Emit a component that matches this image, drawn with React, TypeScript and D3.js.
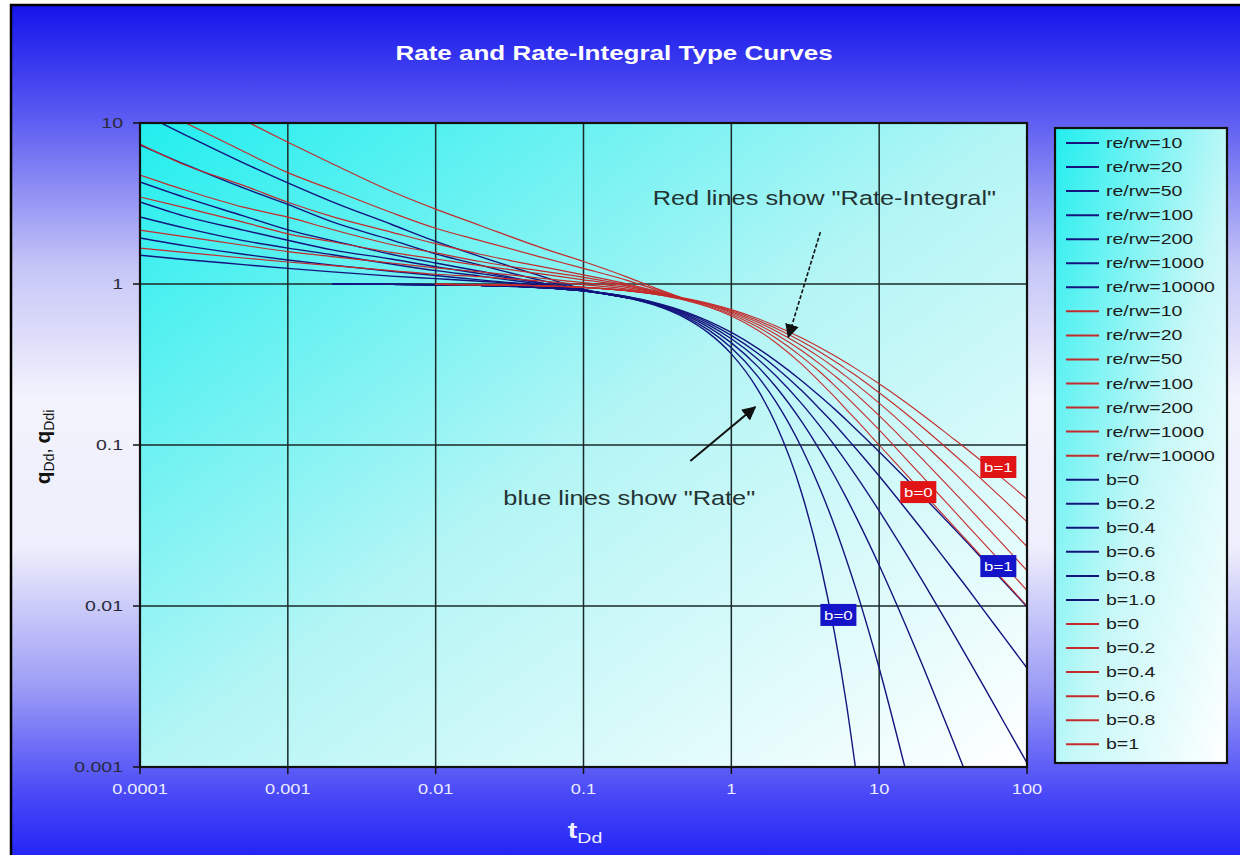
import React from "react";
import * as d3 from "d3";

// ---------- axis ticks ----------
const X_TICKS = [0.0001, 0.001, 0.01, 0.1, 1, 10, 100];
const X_TICK_LABELS = ["0.0001", "0.001", "0.01", "0.1", "1", "10", "100"];
const Y_TICKS = [0.001, 0.01, 0.1, 1, 10];
const Y_TICK_LABELS = ["0.001", "0.01", "0.1", "1", "10"];

// ---------- transient stems (re/rw) ----------
const T_TRANS = [1e-4, 2e-4, 5e-4, 1e-3, 2e-3, 5e-3, 0.01, 0.02, 0.05, 0.1, 0.2, 0.3, 0.5];
const RE_RW = ["10", "20", "50", "100", "200", "1000", "10000"];
// blue: rate qDd
const RATE_TRANS = [
  [11.6, 8.48, 5.66, 4.25, 3.24, 2.35, 1.84, 1.48, 1.13, 0.93, 0.82, null, null],
  [7.3, 5.55, 3.95, 3.12, 2.43, 1.88, 1.54, 1.31, 1.06, 0.925, 0.82, null, null],
  [4.3, 3.45, 2.65, 2.17, 1.86, 1.53, 1.35, 1.2, 1.02, 0.92, 0.82, null, null],
  [3.23, 2.64, 2.16, 1.87, 1.63, 1.43, 1.28, 1.16, 1.02, 0.915, 0.82, null, null],
  [2.61, 2.23, 1.86, 1.67, 1.52, 1.33, 1.21, 1.12, 1.0, 0.915, 0.82, null, null],
  [1.93, 1.73, 1.53, 1.41, 1.31, 1.2, 1.13, 1.06, 0.98, 0.91, 0.82, null, null],
  [1.51, 1.42, 1.32, 1.25, 1.19, 1.12, 1.08, 1.04, 0.98, 0.91, 0.82, null, null],
];
// red: rate-integral qDdi
const INTEGRAL_TRANS = [
  [22.4, 16.1, 10.46, 7.6, 5.59, 3.77, 2.92, 2.31, 1.7, 1.38, 1.1, 0.95, 0.8],
  [13.9, 10.1, 6.67, 4.92, 3.85, 2.78, 2.22, 1.86, 1.48, 1.25, 1.05, 0.93, 0.8],
  [7.4, 5.5, 4.1, 3.22, 2.62, 2.1, 1.78, 1.53, 1.29, 1.14, 1.0, 0.91, 0.8],
  [4.75, 3.85, 3.0, 2.6, 2.18, 1.76, 1.56, 1.38, 1.21, 1.1, 0.98, 0.9, 0.8],
  [3.47, 2.98, 2.42, 2.05, 1.83, 1.57, 1.43, 1.3, 1.16, 1.06, 0.97, 0.895, 0.8],
  [2.16, 1.97, 1.74, 1.59, 1.48, 1.35, 1.26, 1.19, 1.09, 1.02, 0.95, 0.89, 0.8],
  [1.67, 1.57, 1.45, 1.37, 1.3, 1.21, 1.15, 1.11, 1.045, 0.99, 0.93, 0.88, 0.8],
];

// ---------- depletion stems (b) ----------
const T_DEPL = [0.002, 0.005, 0.01, 0.02, 0.05, 0.1, 0.2, 0.3, 0.5, 0.7, 1, 1.5, 2, 3, 4, 5, 6, 7, 10, 15, 20, 30, 40, 50, 70, 100];
const B_RATE_LABELS = ["b=0", "b=0.2", "b=0.4", "b=0.6", "b=0.8", "b=1.0"];
const B_INT_LABELS = ["b=0", "b=0.2", "b=0.4", "b=0.6", "b=0.8", "b=1"];
const RATE_DEPL = [
  [0.998, 0.995, 0.99, 0.98, 0.951, 0.905, 0.819, 0.741, 0.607, 0.497, 0.368, 0.223, 0.135, 0.0498, 0.0183, 0.00674, 0.00248, 0.00091, null, null, null, null, null, null, null, null],
  [0.998, 0.995, 0.99, 0.98, 0.951, 0.906, 0.822, 0.747, 0.621, 0.519, 0.402, 0.269, 0.186, 0.0954, 0.0529, 0.0313, 0.0194, 0.0126, 0.00412, 0.00098, null, null, null, null, null, null],
  [0.998, 0.995, 0.99, 0.98, 0.952, 0.907, 0.825, 0.753, 0.634, 0.54, 0.431, 0.309, 0.23, 0.139, 0.0917, 0.0642, 0.0469, 0.0355, 0.0179, 0.00771, 0.00412, 0.00164, 0.00084, null, null, null],
  [0.998, 0.995, 0.99, 0.98, 0.952, 0.908, 0.828, 0.759, 0.646, 0.557, 0.457, 0.343, 0.269, 0.18, 0.13, 0.0992, 0.0786, 0.0641, 0.039, 0.0215, 0.0139, 0.00739, 0.00468, 0.00327, 0.00189, 0.00106],
  [0.998, 0.995, 0.99, 0.98, 0.952, 0.908, 0.831, 0.764, 0.657, 0.574, 0.48, 0.373, 0.303, 0.217, 0.166, 0.134, 0.111, 0.0945, 0.0642, 0.0405, 0.029, 0.0179, 0.0127, 0.00964, 0.00638, 0.00412],
  [0.998, 0.995, 0.99, 0.98, 0.952, 0.909, 0.833, 0.769, 0.667, 0.588, 0.5, 0.4, 0.333, 0.25, 0.2, 0.167, 0.143, 0.125, 0.0909, 0.0625, 0.0476, 0.0323, 0.0244, 0.0196, 0.0141, 0.0099],
];
const INTEGRAL_DEPL = [
  [null, null, 0.995, 0.99, 0.975, 0.952, 0.906, 0.864, 0.787, 0.719, 0.632, 0.518, 0.432, 0.317, 0.245, 0.199, 0.166, 0.143, 0.1, 0.0667, 0.05, 0.0333, 0.025, 0.02, 0.0143, 0.01],
  [null, null, 0.995, 0.99, 0.976, 0.952, 0.908, 0.866, 0.793, 0.728, 0.647, 0.542, 0.462, 0.353, 0.283, 0.234, 0.199, 0.173, 0.124, 0.083, 0.0624, 0.0417, 0.0312, 0.025, 0.0179, 0.0125],
  [null, null, 0.995, 0.99, 0.976, 0.952, 0.909, 0.868, 0.798, 0.737, 0.661, 0.562, 0.488, 0.385, 0.317, 0.269, 0.234, 0.206, 0.152, 0.105, 0.0802, 0.0544, 0.0411, 0.033, 0.0237, 0.0166],
  [null, null, 0.995, 0.99, 0.976, 0.953, 0.91, 0.871, 0.803, 0.745, 0.673, 0.58, 0.511, 0.414, 0.349, 0.302, 0.266, 0.238, 0.182, 0.131, 0.102, 0.0716, 0.0552, 0.0449, 0.0328, 0.0234],
  [null, null, 0.995, 0.99, 0.976, 0.953, 0.911, 0.873, 0.807, 0.751, 0.683, 0.596, 0.531, 0.439, 0.377, 0.331, 0.296, 0.269, 0.211, 0.158, 0.127, 0.0921, 0.0729, 0.0605, 0.0454, 0.0333],
  [null, null, 0.995, 0.99, 0.976, 0.953, 0.912, 0.875, 0.811, 0.758, 0.693, 0.611, 0.549, 0.462, 0.402, 0.358, 0.324, 0.297, 0.24, 0.185, 0.152, 0.114, 0.0928, 0.0786, 0.0609, 0.0462],
];

// ---------- annotations ----------
const NOTE_INTEGRAL_TEXT = "Red lines show \"Rate-Integral\"";
const NOTE_INTEGRAL_POS = [4.26, 3.42];
const NOTE_INTEGRAL_ARROW = [[4.0, 2.1], [2.43, 0.469]];
const NOTE_RATE_TEXT = "blue lines show \"Rate\"";
const NOTE_RATE_POS = [0.204, 0.0469];
const NOTE_RATE_ARROW = [[0.528, 0.0796], [1.45, 0.172]];
const RED_TAGS = [
  { text: "b=1", t: 64, q: 0.073 },
  { text: "b=0", t: 18.4, q: 0.051 },
];
const BLUE_TAGS = [
  { text: "b=1", t: 64, q: 0.0177 },
  { text: "b=0", t: 5.3, q: 0.0088 },
];

const BLUE = "#14147e";
const RED = "#c42c2c";
const FONT = "Arial, 'Liberation Sans', sans-serif";
const SX = 1.3;

export default function App() {
  const W = 1240;
  const H = 855;
  const L = 140, R = 1027, T = 123, B = 767;
  const x = d3.scaleLog().domain([1e-4, 100]).range([L, R]);
  const y = d3.scaleLog().domain([0.001, 10]).range([B, T]);
  const line = d3
    .line<[number, number | null]>()
    .defined((d) => d[1] != null)
    .x((d) => x(d[0]))
    .y((d) => y(d[1] as number))
    .curve(d3.curveMonotoneX);
  const path = (ts: number[], vs: (number | null)[]) =>
    line(ts.map((t, i) => [t, vs[i]] as [number, number | null])) || "";

  const legendItems = [
    ...RE_RW.map((r) => ({ label: `re/rw=${r}`, color: BLUE })),
    ...RE_RW.map((r) => ({ label: `re/rw=${r}`, color: RED })),
    ...B_RATE_LABELS.map((l) => ({ label: l, color: BLUE })),
    ...B_INT_LABELS.map((l) => ({ label: l, color: RED })),
  ];
  const LG = { x: 1055, y: 128, w: 172, h: 635, row0: 143, step: 24.05 };

  const stext = (
    tx: number,
    ty: number,
    content: React.ReactNode,
    props: any = {}
  ) => (
    <text transform={`translate(${tx},${ty}) scale(${SX},1)`} fontFamily={FONT} {...props}>
      {content}
    </text>
  );

  return (
    <div style={{ position: "absolute", left: 0, top: 0, width: W, height: H }}>
      <svg width={W} height={H} style={{ display: "block" }}>
        <defs>
          <linearGradient id="bgGrad" x1="0" y1="0" x2="0" y2="1">
            <stop offset="0" stopColor="#1414ec" />
            <stop offset="0.13" stopColor="#5c5cf2" />
            <stop offset="0.3" stopColor="#c6c6f7" />
            <stop offset="0.45" stopColor="#f3f3fd" />
            <stop offset="0.62" stopColor="#eeeefc" />
            <stop offset="0.78" stopColor="#9c9cf6" />
            <stop offset="0.9" stopColor="#4a4af7" />
            <stop offset="1" stopColor="#1616f6" />
          </linearGradient>
          <linearGradient id="plotGrad" x1="0" y1="0" x2="1" y2="1">
            <stop offset="0" stopColor="#22eeee" />
            <stop offset="0.5" stopColor="#b4f5f5" />
            <stop offset="1" stopColor="#ffffff" />
          </linearGradient>
          <linearGradient id="legGrad" x1="0" y1="0" x2="1" y2="1">
            <stop offset="0" stopColor="#22eeee" />
            <stop offset="0.55" stopColor="#c8f8f8" />
            <stop offset="1" stopColor="#ffffff" />
          </linearGradient>
          <clipPath id="plotClip">
            <rect x={L} y={T} width={R - L} height={B - T} />
          </clipPath>
          <marker id="arrowHead" viewBox="0 0 10 10" refX="9" refY="5" markerWidth="14" markerHeight="14" markerUnits="userSpaceOnUse" orient="auto">
            <path d="M0,0 L10,5 L0,10 z" fill="#111" />
          </marker>
        </defs>

        {/* outer background and frame */}
        <rect x={0} y={0} width={W} height={H} fill="#ffffff" />
        <rect x={11} y={5} width={W + 20} height={H + 20} fill="url(#bgGrad)" stroke="#000" strokeWidth={2.5} />

        {/* title */}
        {stext(614, 60, "Rate and Rate-Integral Type Curves", {
          textAnchor: "middle",
          fontSize: 20,
          fontWeight: "bold",
          fill: "#ffffff",
        })}

        {/* plot area */}
        <rect x={L} y={T} width={R - L} height={B - T} fill="url(#plotGrad)" />

        {/* grid */}
        {X_TICKS.map((t) => (
          <line key={`gx${t}`} x1={x(t)} x2={x(t)} y1={T} y2={B} stroke="#1a2a2a" strokeWidth={1.5} />
        ))}
        {Y_TICKS.map((q) => (
          <line key={`gy${q}`} x1={L} x2={R} y1={y(q)} y2={y(q)} stroke="#1a2a2a" strokeWidth={1.5} />
        ))}

        {/* curves */}
        <g clipPath="url(#plotClip)" fill="none">
          {RATE_TRANS.map((vs, i) => (
            <path key={`rt${i}`} d={path(T_TRANS, vs)} stroke={BLUE} strokeWidth={1.4} />
          ))}
          {INTEGRAL_TRANS.map((vs, i) => (
            <path key={`it${i}`} d={path(T_TRANS, vs)} stroke={RED} strokeWidth={1.2} />
          ))}
          {RATE_DEPL.map((vs, i) => (
            <path key={`rd${i}`} d={path(T_DEPL, vs)} stroke={BLUE} strokeWidth={1.4} />
          ))}
          {INTEGRAL_DEPL.map((vs, i) => (
            <path key={`id${i}`} d={path(T_DEPL, vs)} stroke={RED} strokeWidth={1.1} />
          ))}
        </g>

        {/* plot border */}
        <rect x={L} y={T} width={R - L} height={B - T} fill="none" stroke="#111" strokeWidth={2.2} />

        {/* axis ticks & labels */}
        {X_TICKS.map((t, i) => (
          <g key={`xt${t}`}>
            <line x1={x(t)} x2={x(t)} y1={B} y2={B + 7} stroke="#111" strokeWidth={1.5} />
            {stext(x(t), 794, X_TICK_LABELS[i], { textAnchor: "middle", fontSize: 14, fill: "#ececff" })}
          </g>
        ))}
        {Y_TICKS.map((q, i) => (
          <g key={`yt${q}`}>
            <line x1={L - 7} x2={L} y1={y(q)} y2={y(q)} stroke="#111" strokeWidth={1.5} />
            {stext(L - 17, y(q) + 5, Y_TICK_LABELS[i], { textAnchor: "end", fontSize: 15, fill: "#2a2a3a" })}
          </g>
        ))}

        {/* axis titles */}
        {stext(
          585,
          838,
          <>
            <tspan fontSize={22} fontWeight="bold">t</tspan>
            <tspan fontSize={15} dy={5}>Dd</tspan>
          </>,
          { textAnchor: "middle", fill: "#f0f0ff" }
        )}
        <text transform={`translate(50,447) rotate(-90)`} fontFamily={FONT} textAnchor="middle" fill="#111">
          <tspan fontSize={21} fontWeight="bold">q</tspan>
          <tspan fontSize={14} dy={4}>Dd</tspan>
          <tspan fontSize={18} dy={-4}>, </tspan>
          <tspan fontSize={21} fontWeight="bold">q</tspan>
          <tspan fontSize={14} dy={4}>Ddi</tspan>
        </text>

        {/* annotations */}
        {stext(x(NOTE_INTEGRAL_POS[0]), y(NOTE_INTEGRAL_POS[1]) + 7, NOTE_INTEGRAL_TEXT, {
          textAnchor: "middle",
          fontSize: 19.5,
          fill: "#243434",
        })}
        <line
          x1={x(NOTE_INTEGRAL_ARROW[0][0])}
          y1={y(NOTE_INTEGRAL_ARROW[0][1])}
          x2={x(NOTE_INTEGRAL_ARROW[1][0])}
          y2={y(NOTE_INTEGRAL_ARROW[1][1])}
          stroke="#111"
          strokeWidth={1.6}
          strokeDasharray="4 2"
          markerEnd="url(#arrowHead)"
        />
        {stext(x(NOTE_RATE_POS[0]), y(NOTE_RATE_POS[1]) + 7, NOTE_RATE_TEXT, {
          textAnchor: "middle",
          fontSize: 19.5,
          fill: "#243434",
        })}
        <line
          x1={x(NOTE_RATE_ARROW[0][0])}
          y1={y(NOTE_RATE_ARROW[0][1])}
          x2={x(NOTE_RATE_ARROW[1][0])}
          y2={y(NOTE_RATE_ARROW[1][1])}
          stroke="#111"
          strokeWidth={2}
          markerEnd="url(#arrowHead)"
        />

        {/* curve tags */}
        {RED_TAGS.map((tg, i) => (
          <g key={`rtag${i}`}>
            <rect x={x(tg.t) - 18} y={y(tg.q) - 11} width={36} height={22} fill="#e01414" />
            {stext(x(tg.t), y(tg.q) + 5, tg.text, { textAnchor: "middle", fontSize: 13, fill: "#ffffff" })}
          </g>
        ))}
        {BLUE_TAGS.map((tg, i) => (
          <g key={`btag${i}`}>
            <rect x={x(tg.t) - 18} y={y(tg.q) - 11} width={36} height={22} fill="#1414c8" />
            {stext(x(tg.t), y(tg.q) + 5, tg.text, { textAnchor: "middle", fontSize: 13, fill: "#ffffff" })}
          </g>
        ))}

        {/* legend */}
        <rect x={LG.x} y={LG.y} width={LG.w} height={LG.h} fill="url(#legGrad)" stroke="#111" strokeWidth={2.2} />
        {legendItems.map((it, i) => {
          const ry = LG.row0 + i * LG.step;
          return (
            <g key={`lg${i}`}>
              <line x1={1066} x2={1099} y1={ry} y2={ry} stroke={it.color} strokeWidth={2} />
              {stext(1106, ry + 5, it.label, { fontSize: 15, fill: "#1c1c1c" })}
            </g>
          );
        })}
      </svg>
    </div>
  );
}
